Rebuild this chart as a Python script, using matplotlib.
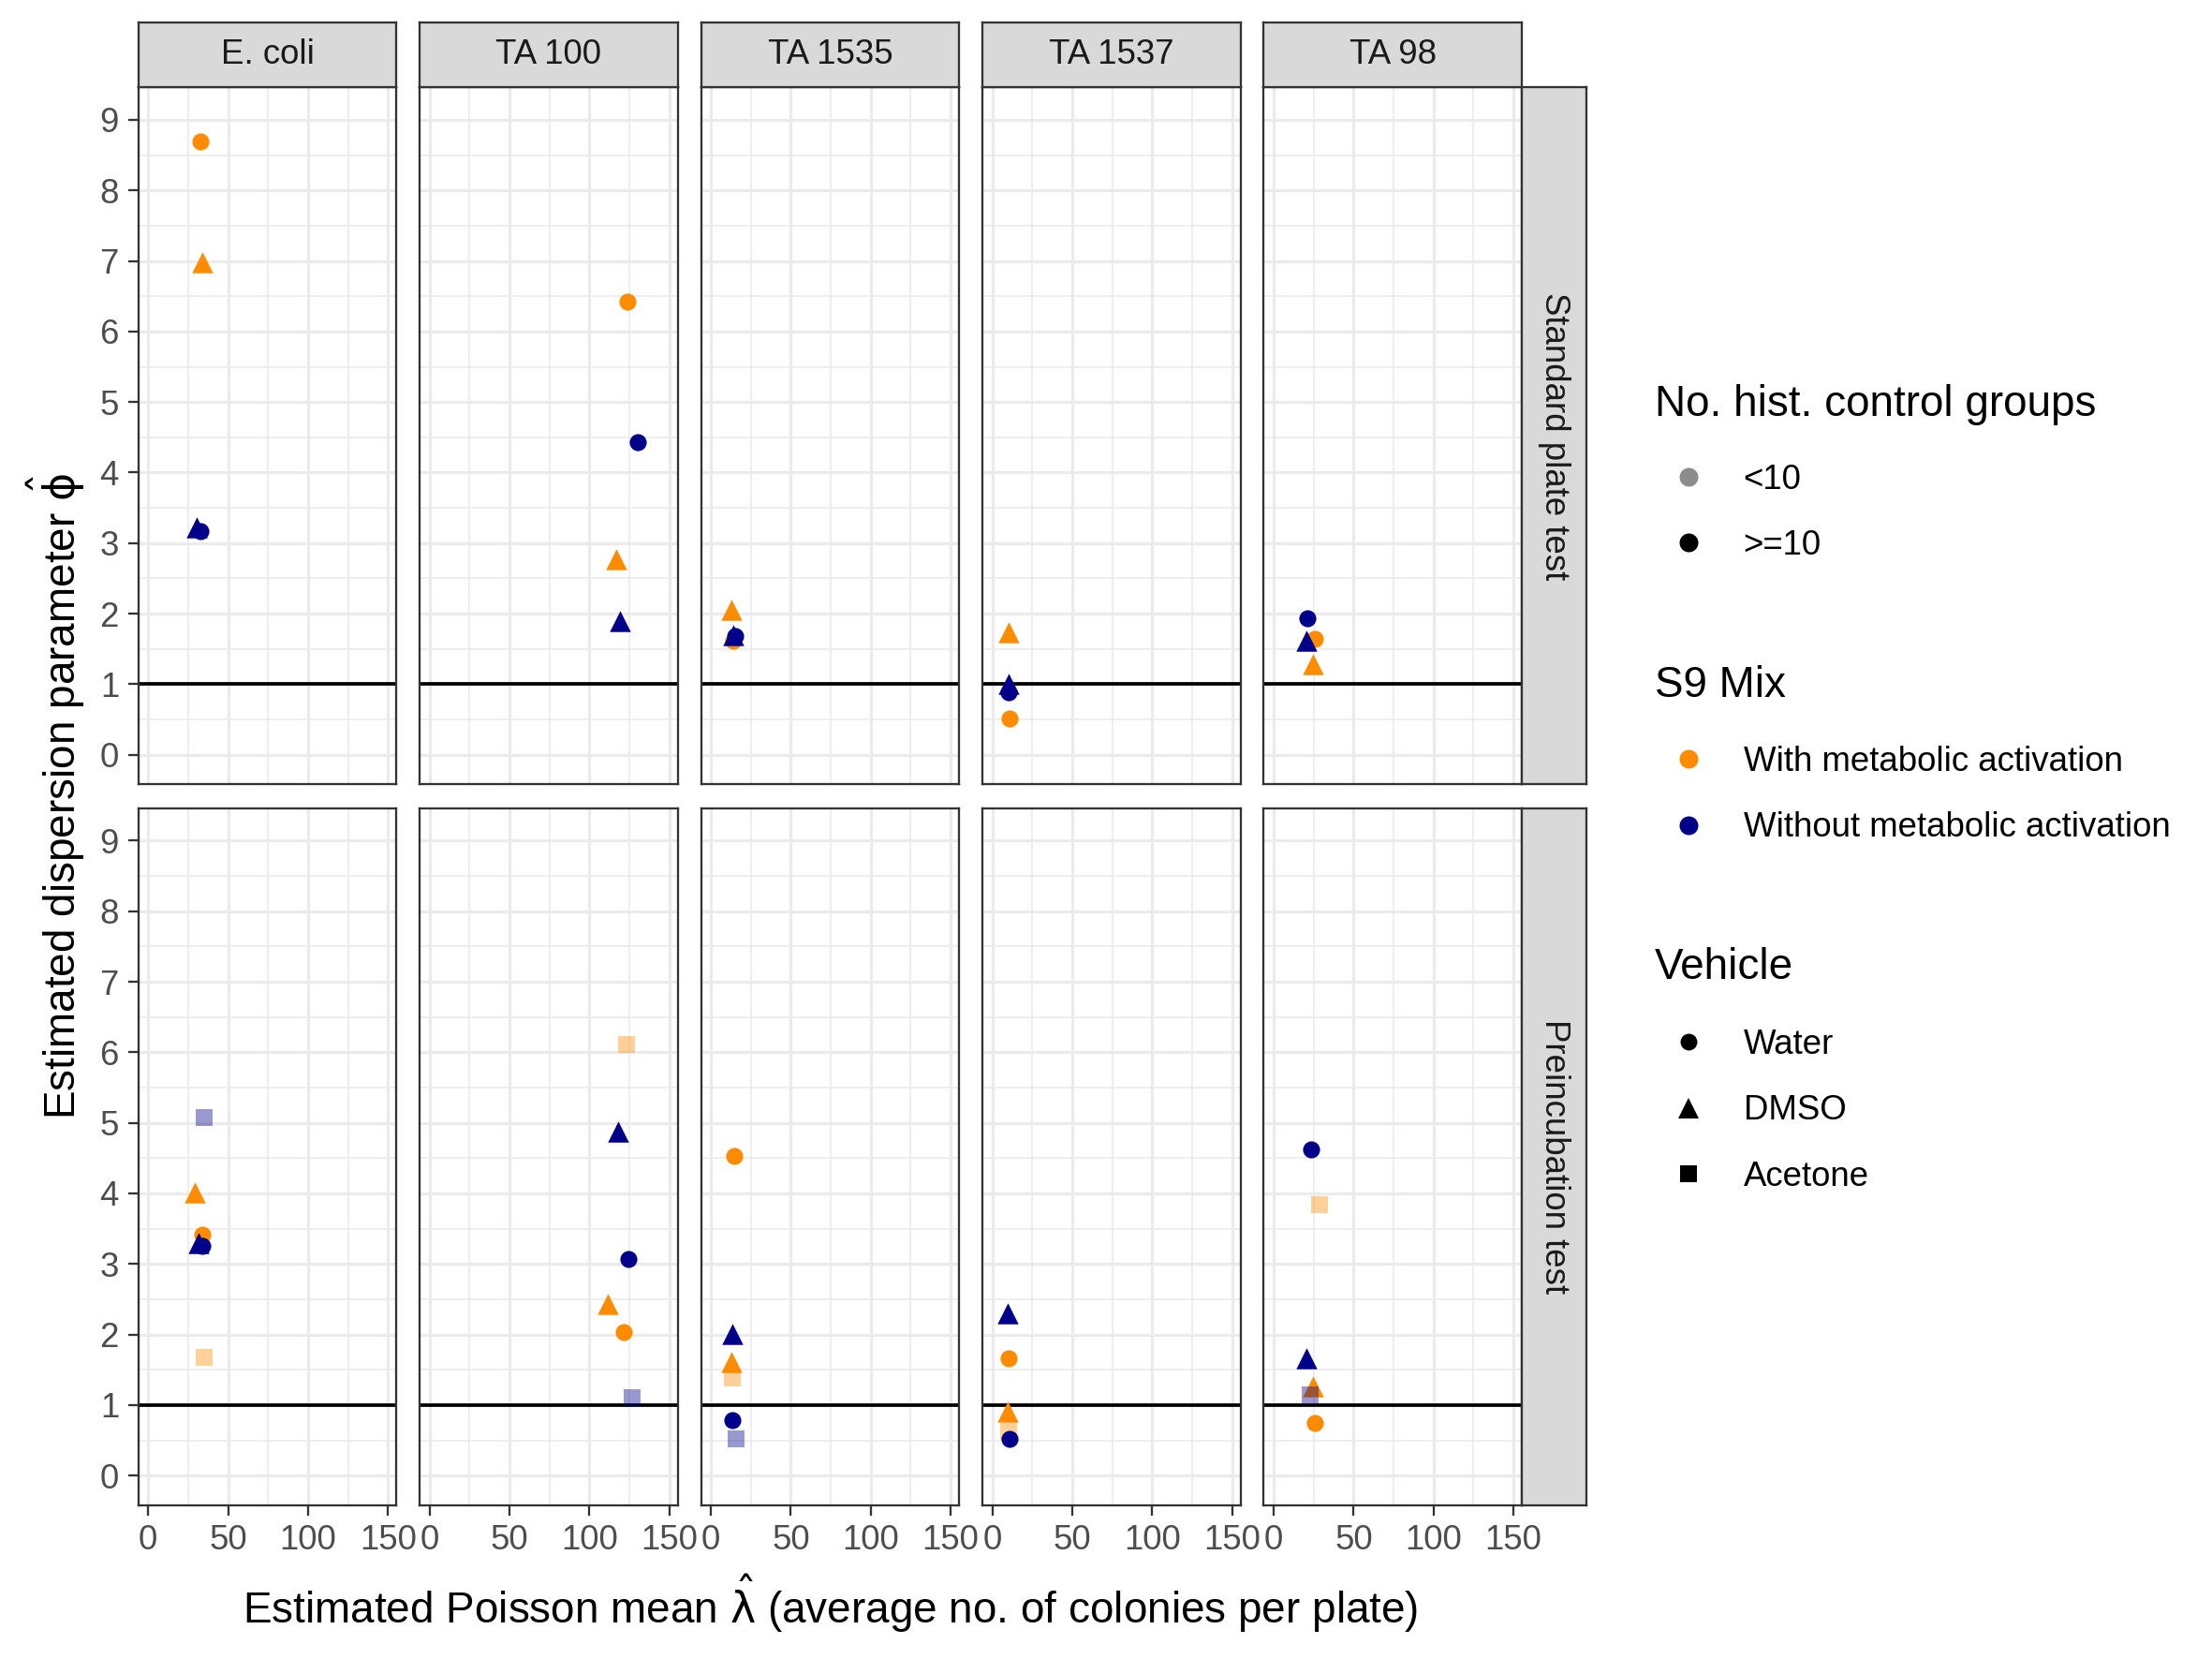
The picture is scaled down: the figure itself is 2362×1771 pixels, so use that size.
import numpy as np
import pandas as pd
import matplotlib
matplotlib.use("Agg")
import matplotlib.pyplot as plt
from matplotlib.lines import Line2D

plt.rcParams['font.family'] = ['Liberation Sans', 'DejaVu Sans']
plt.rcParams['mathtext.fontset'] = 'dejavusans'

# ==========================
# DATA
# ==========================
strains = ["E. coli", "TA 100", "TA 1535", "TA 1537", "TA 98"]
tests = ["Standard plate test", "Preincubation test"]

point_test = ["Standard plate test"] * 20 + ["Preincubation test"] * 29
point_strain = (["E. coli"] * 4 + ["TA 100"] * 4 + ["TA 1535"] * 4 + ["TA 1537"] * 4 + ["TA 98"] * 4
                + ["E. coli"] * 6 + ["TA 100"] * 6 + ["TA 1535"] * 6 + ["TA 1537"] * 5 + ["TA 98"] * 6)
point_s9 = [
    "With", "With", "Without", "Without",
    "With", "Without", "With", "Without",
    "With", "Without", "Without", "With",
    "With", "Without", "Without", "With",
    "Without", "With", "Without", "With",
    "Without", "With", "With", "Without", "Without", "With",
    "With", "Without", "Without", "With", "With", "Without",
    "With", "Without", "With", "With", "Without", "Without",
    "Without", "With", "With", "With", "Without",
    "Without", "With", "Without", "With", "Without", "With",
]
point_vehicle = [
    "Water", "DMSO", "DMSO", "Water",
    "Water", "Water", "DMSO", "DMSO",
    "DMSO", "DMSO", "Water", "Water",
    "DMSO", "DMSO", "Water", "Water",
    "Water", "Water", "DMSO", "DMSO",
    "Acetone", "DMSO", "Water", "DMSO", "Water", "Acetone",
    "Acetone", "DMSO", "Water", "DMSO", "Water", "Acetone",
    "Water", "DMSO", "DMSO", "Acetone", "Water", "Acetone",
    "DMSO", "Water", "DMSO", "Acetone", "Water",
    "Water", "Acetone", "DMSO", "DMSO", "Acetone", "Water",
]
point_hist = [">=10" if v != "Acetone" else "<10" for v in point_vehicle]
lam_hat = [
    32.8, 33.6, 30.2, 32.4,
    124.0, 130.5, 117.0, 119.0,
    13.0, 14.0, 15.0, 14.0,
    10.0, 10.2, 10.0, 10.9,
    21.1, 25.7, 20.7, 24.8,
    35.2, 29.2, 34.1, 31.4, 33.7, 35.2,
    123.5, 118.2, 124.2, 111.7, 121.2, 126.5,
    14.8, 13.6, 12.9, 13.6, 13.6, 15.5,
    9.8, 10.5, 9.5, 10.2, 10.7,
    23.4, 28.6, 20.7, 24.5, 22.7, 25.5,
]
phi_hat = [
    8.70, 6.98, 3.22, 3.17,
    6.43, 4.43, 2.77, 1.89,
    2.06, 1.70, 1.68, 1.61,
    1.73, 1.01, 0.89, 0.52,
    1.93, 1.64, 1.61, 1.29,
    5.08, 4.01, 3.41, 3.29, 3.26, 1.67,
    6.11, 4.88, 3.07, 2.43, 2.04, 1.10,
    4.53, 2.01, 1.61, 1.38, 0.78, 0.52,
    2.30, 1.66, 0.90, 0.63, 0.52,
    4.63, 3.84, 1.66, 1.26, 1.14, 0.74,
]

df = pd.DataFrame({
    "Test": point_test, "Strain": point_strain, "S9": point_s9,
    "Vehicle": point_vehicle, "Hist": point_hist,
    "lambda": lam_hat, "phi": phi_hat,
})

# ==========================
# STYLE
# ==========================
s9_colors = {"With": "#FF8C00", "Without": "#00008B"}
hist_alpha = {"<10": 0.4, ">=10": 1.0}
veh_marker = {"Water": "o", "DMSO": "^", "Acetone": "s"}
veh_size = {"Water": 19, "DMSO": 29, "Acetone": 18}
s9_order = ["With", "Without"]
veh_order = ["DMSO", "Water", "Acetone"]

fig = plt.figure(figsize=(2362 / 300, 1771 / 300), dpi=300)

left0 = 0.0625
pitch = 0.1272
pw = 0.1167
ph = 0.4201
bottoms = [0.5272, 0.0927]
strip_h = 0.0391
strip_w = 0.0293

border = "#333333"
grid_c = "#EBEBEB"

for r, test in enumerate(tests):
    for c, strain in enumerate(strains):
        ax = fig.add_axes([left0 + c * pitch, bottoms[r], pw, ph])
        sub = df[(df["Test"] == test) & (df["Strain"] == strain)]

        ax.axhline(1, color="black", lw=0.9, zorder=2)
        for s9 in s9_order:
            for veh in veh_order:
                for hist in ["<10", ">=10"]:
                    g = sub[(sub["S9"] == s9) & (sub["Vehicle"] == veh) & (sub["Hist"] == hist)]
                    if len(g) == 0:
                        continue
                    ax.scatter(g["lambda"], g["phi"], marker=veh_marker[veh], s=veh_size[veh],
                               color=s9_colors[s9], alpha=hist_alpha[hist], linewidths=0, zorder=3)

        ax.set_xlim(-6.2, 155.3)
        ax.set_ylim(-0.42, 9.46)
        ax.set_xticks([0, 50, 100, 150])
        ax.set_xticks([25, 75, 125], minor=True)
        ax.set_yticks(range(0, 10))
        ax.set_yticks(np.arange(0.5, 9, 1.0), minor=True)
        ax.grid(True, which="major", color=grid_c, lw=0.75, zorder=0)
        ax.grid(True, which="minor", color=grid_c, lw=0.4, zorder=0)
        ax.set_axisbelow(True)
        for sp in ax.spines.values():
            sp.set_color(border)
            sp.set_linewidth(0.55)
        ax.tick_params(which="minor", length=0)
        ax.tick_params(which="major", color=border, width=0.55, length=2.75,
                       labelsize=8.8, labelcolor="#4D4D4D", pad=2.2)
        if c != 0:
            ax.tick_params(axis="y", length=0, labelleft=False)
        if r != 1:
            ax.tick_params(axis="x", length=0, labelbottom=False)

        # column strips
        if r == 0:
            sax = fig.add_axes([left0 + c * pitch, bottoms[0] + ph, pw, strip_h])
            sax.set_facecolor("#D9D9D9")
            sax.set_xticks([])
            sax.set_yticks([])
            for sp in sax.spines.values():
                sp.set_color(border)
                sp.set_linewidth(0.55)
            sax.text(0.5, 0.5, strain, ha="center", va="center", fontsize=8.8,
                     color="#1A1A1A", transform=sax.transAxes)

    # row strips
    rax = fig.add_axes([left0 + 4 * pitch + pw, bottoms[r], strip_w, ph])
    rax.set_facecolor("#D9D9D9")
    rax.set_xticks([])
    rax.set_yticks([])
    for sp in rax.spines.values():
        sp.set_color(border)
        sp.set_linewidth(0.55)
    rax.text(0.5, 0.5, test, ha="center", va="center", fontsize=8.8, rotation=270,
             color="#1A1A1A", transform=rax.transAxes)

# axis titles
fig.text(0.3753, 0.0332,
         r"Estimated Poisson mean $\hat{\mathrm{\lambda}}$ (average no. of colonies per plate)",
         ha="center", va="center", fontsize=11)
fig.text(0.0255, 0.52, r"Estimated dispersion parameter $\hat{\mathrm{\phi}}$",
         ha="center", va="center", fontsize=11, rotation=90)

# ==========================
# LEGENDS
# ==========================
leg_x = 0.748


def add_legend(handles, labels, title, y_title, y_mid):
    fig.text(leg_x, y_title, title, ha="left", va="center", fontsize=11)
    fig.legend(handles, labels, loc="center left", bbox_to_anchor=(leg_x, y_mid),
               frameon=False, fontsize=8.8, borderpad=0, borderaxespad=0,
               handlelength=1.96, handleheight=0.7, handletextpad=0.625, labelspacing=0.97)


def fy(px):
    return 1 - px / 1176


hist_handles = [Line2D([], [], ls="none", marker="o", ms=4.8, mew=0, color="black", alpha=a)
                for a in [0.45, 1.0]]
add_legend(hist_handles, ["<10", ">=10"], "No. hist. control groups", fy(287), fy(363.5))

s9_handles = [Line2D([], [], ls="none", marker="o", ms=4.8, mew=0, color=s9_colors[k]) for k in s9_order]
add_legend(s9_handles, ["With metabolic activation", "Without metabolic activation"], "S9 Mix",
           fy(486), fy(563.5))

veh_handles = [Line2D([], [], ls="none", marker=m, ms=ms, mew=0, color="black")
               for m, ms in [("o", 4.3), ("^", 5.3), ("s", 4.2)]]
add_legend(veh_handles, ["Water", "DMSO", "Acetone"], "Vehicle", fy(686), fy(787.5))

fig.savefig("out.png", dpi=300)
plt.close(fig)
